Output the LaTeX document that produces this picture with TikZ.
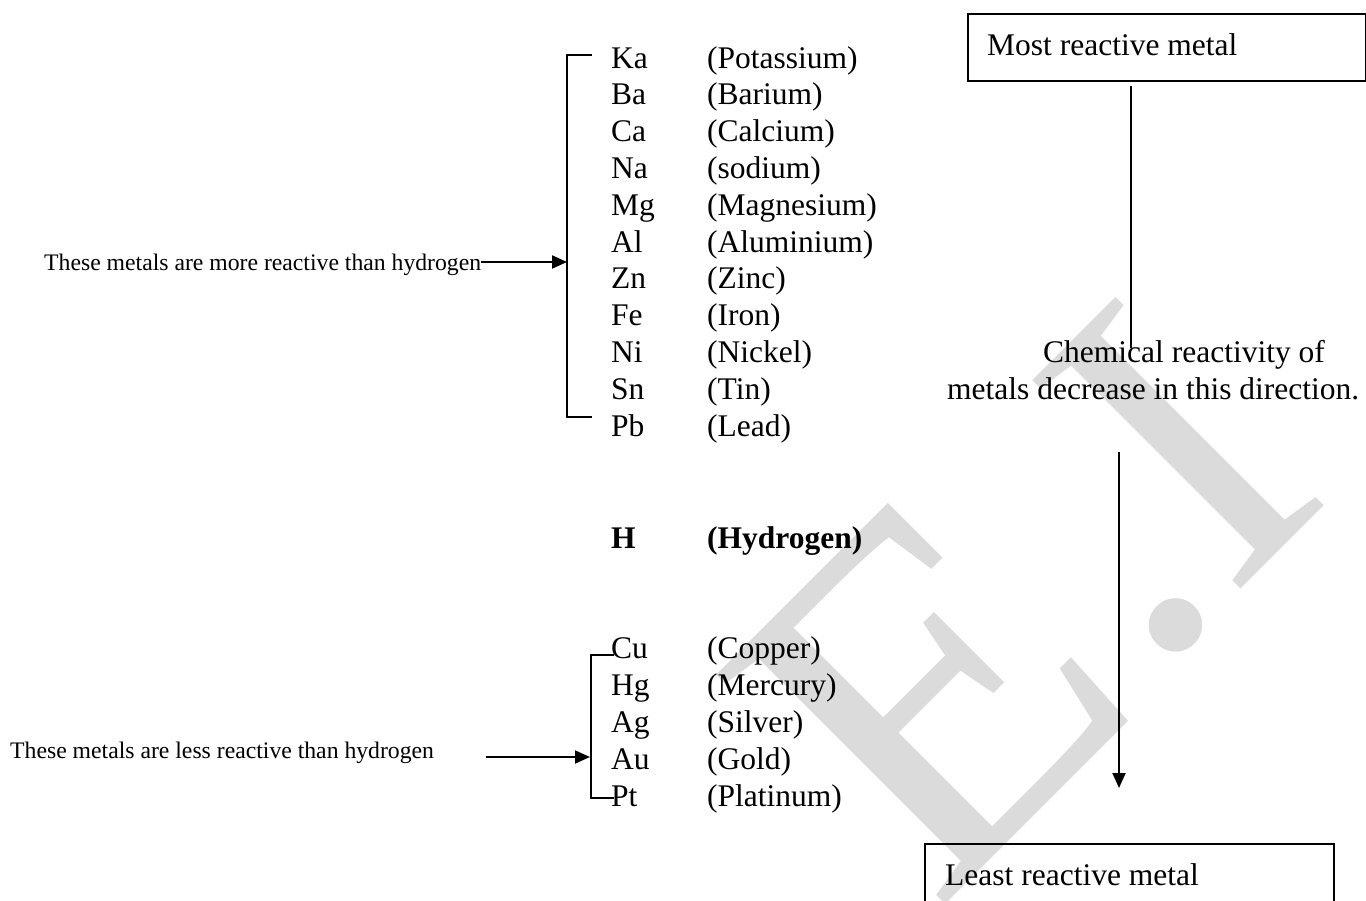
\documentclass[tikz,border=0pt]{standalone}
\usepackage{fontspec}
\setmainfont{Liberation Serif}
\usetikzlibrary{arrows.meta}
\begin{document}
\begin{tikzpicture}[x=1pt,y=-1pt,
  txt/.style={anchor=base west,inner sep=0pt,font=\fontsize{31.5}{37}\selectfont},
  btxt/.style={anchor=base west,inner sep=0pt,font=\fontsize{31.5}{37}\selectfont\bfseries},
  lbl/.style={anchor=base west,inner sep=0pt,font=\fontsize{23.7}{28}\selectfont},
  ln/.style={line width=2pt,black},
  arr/.style={ln,-{Triangle[length=15pt,width=13pt]}},
  frame/.style={draw,line width=2pt,inner sep=0pt,anchor=north west},
  wmark/.style={anchor=base west,inner sep=0pt,rotate=45,text=black!14,font=\fontsize{450}{450}\selectfont}]
\useasboundingbox (0,0) rectangle (1366,900);
\clip (0,0) rectangle (1366,900);
% watermark
\node[wmark,font=\fontsize{495}{495}\selectfont] (wmE) at (935,915) {E};
\node[wmark] (wmI) at (1150,680) {.I};
% upper list
\foreach \s/\n [count=\i from 0] in {Ka/Potassium,Ba/Barium,Ca/Calcium,Na/sodium,Mg/Magnesium,Al/Aluminium,Zn/Zinc,Fe/Iron,Ni/Nickel,Sn/Tin,Pb/Lead}{
  \node[txt] (us\i) at (611,{68+36.8*\i}) {\s};
  \node[txt] (un\i) at (707,{68+36.8*\i}) {(\n)};
}
% hydrogen
\node[btxt] (hs) at (611,548) {H};
\node[btxt] (hn) at (707,548) {(Hydrogen)};
% lower list
\foreach \s/\n [count=\i from 0] in {Cu/Copper,Hg/Mercury,Ag/Silver,Au/Gold,Pt/Platinum}{
  \node[txt] (ls\i) at (611,{658+37*\i}) {\s};
  \node[txt] (ln\i) at (707,{658+37*\i}) {(\n)};
}
% upper bracket
\coordinate (ub1) at (592,55);
\coordinate (ub2) at (567,55);
\coordinate (ub3) at (567,417);
\coordinate (ub4) at (592,417);
\draw[ln] (ub1) -- (ub2) -- (ub3) -- (ub4);
\coordinate (umid) at (567,262);
\node[lbl] (lmore) at (44,270) {These metals are more reactive than hydrogen};
\draw[arr] (lmore.east |- umid) -- (umid);
% lower bracket
\coordinate (lb1) at (614,655);
\coordinate (lb2) at (591,655);
\coordinate (lb3) at (591,798);
\coordinate (lb4) at (614,798);
\draw[ln] (lb1) -- (lb2) -- (lb3) -- (lb4);
\coordinate (lmid) at (590,757);
\node[lbl] (lless) at (10,758) {These metals are less reactive than hydrogen};
\coordinate (lstart) at (486,757);
\draw[arr] (lstart) -- (lmid);
% right side
\node[frame,minimum width=398pt,minimum height=67pt] (most) at (967,13) {};
\node[txt] (mosttxt) at (987,55) {Most reactive metal};
\coordinate (v1) at (1131,86);
\coordinate (v2) at (1131,348);
\draw[ln] (v1) -- (v2);
\node[txt] (chem1) at (1043,362) {Chemical reactivity of};
\node[txt] (chem2) at (947,399) {metals decrease in this direction.};
\coordinate (d1) at (1119,452);
\coordinate (d2) at (1119,788);
\draw[arr] (d1) -- (d2);
\node[frame,minimum width=409pt,minimum height=100pt] (least) at (924,843) {};
\node[txt] (leasttxt) at (945,885) {Least reactive metal};
\end{tikzpicture}
\end{document}
